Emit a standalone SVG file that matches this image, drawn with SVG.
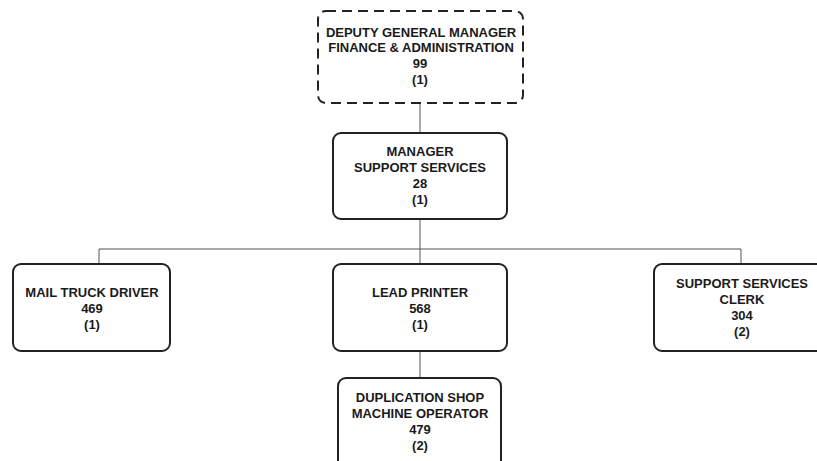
<svg xmlns="http://www.w3.org/2000/svg" width="817" height="461" viewBox="0 0 817 461">
<style>
.box{fill:#fff;stroke:#222;stroke-width:2}
.dash{stroke-dasharray:10,6}
.t{font-family:"Liberation Sans",Arial,sans-serif;font-size:13px;font-weight:bold;fill:#1a1a1a;text-anchor:middle}
.c{stroke:#555;stroke-width:1;fill:none}
</style>
<rect width="817" height="461" fill="#fff"/>
<g id="connectors">
<path class="c" d="M420 103V133M420 219V264M99 249H741M99 249V264M741 249V264M420 351V378"/>
</g>
<g id="n-dgm">
<rect class="box dash" x="318" y="11" width="205" height="92" rx="8"/>
<text class="t" x="421" y="37">DEPUTY GENERAL MANAGER</text>
<text class="t" x="421" y="52">FINANCE &amp; ADMINISTRATION</text>
<text class="t" x="420" y="68">99</text>
<text class="t" x="420" y="84">(1)</text>
</g>
<g id="n-mss">
<rect class="box" x="333" y="133" width="174" height="86" rx="8"/>
<text class="t" x="420" y="156">MANAGER</text>
<text class="t" x="420" y="172">SUPPORT SERVICES</text>
<text class="t" x="420" y="188">28</text>
<text class="t" x="420" y="204">(1)</text>
</g>
<g id="n-mtd">
<rect class="box" x="13" y="264" width="157" height="87" rx="8"/>
<text class="t" x="92" y="297">MAIL TRUCK DRIVER</text>
<text class="t" x="92" y="313">469</text>
<text class="t" x="92" y="329">(1)</text>
</g>
<g id="n-lp">
<rect class="box" x="333" y="264" width="174" height="87" rx="8"/>
<text class="t" x="420" y="297">LEAD PRINTER</text>
<text class="t" x="420" y="313">568</text>
<text class="t" x="420" y="329">(1)</text>
</g>
<g id="n-ssc">
<rect class="box" x="654" y="264" width="176" height="87" rx="8"/>
<text class="t" x="742" y="288">SUPPORT SERVICES</text>
<text class="t" x="742" y="304">CLERK</text>
<text class="t" x="742" y="320">304</text>
<text class="t" x="742" y="336">(2)</text>
</g>
<g id="n-dsmo">
<rect class="box" x="338" y="378" width="163" height="100" rx="8"/>
<text class="t" x="420" y="402">DUPLICATION SHOP</text>
<text class="t" x="420" y="418">MACHINE OPERATOR</text>
<text class="t" x="420" y="434">479</text>
<text class="t" x="420" y="450">(2)</text>
</g>
</svg>
